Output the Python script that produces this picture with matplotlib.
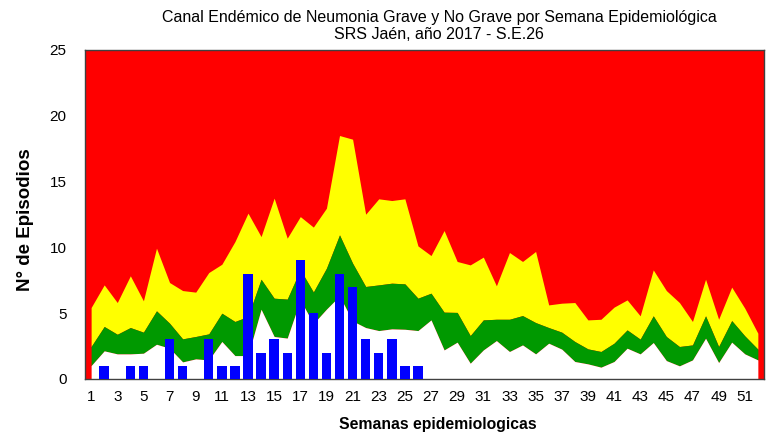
"""Canal endemico de neumonia - SRS Jaen 2017, S.E. 26
Stacked zones (success / security / alert / epidemic) plus weekly cases as bars.
"""

import numpy as np
import matplotlib
matplotlib.use("Agg")
import matplotlib.pyplot as plt

plt.rcParams["font.family"] = ["Liberation Sans", "DejaVu Sans"]

weeks = list(range(1, 53))

# limite inferior (zona de exito, blanco)
lower = [1.01, 2.13, 1.90, 1.90, 1.95, 2.63, 2.33, 1.29, 1.52, 1.44,
         2.84, 1.77, 1.77, 5.29, 3.22, 3.10, 6.00, 4.20, 5.30, 6.30,
         4.40, 3.90, 3.67, 3.80, 3.77, 3.67, 4.48, 2.20, 2.79, 1.19,
         2.20, 2.91, 2.08, 2.58, 1.90, 2.71, 2.26, 1.32, 1.14, 0.89,
         1.32, 2.33, 1.90, 2.76, 1.39, 0.99, 1.44, 3.09, 1.24, 2.79,
         1.90, 1.44]

# mediana (zona de seguridad, verde)
median = [2.46, 3.98, 3.39, 3.90, 3.55, 5.17, 4.23, 3.04, 3.22, 3.42,
          4.99, 4.36, 4.74, 7.57, 6.13, 6.06, 8.30, 6.60, 8.41, 10.94,
          8.79, 7.02, 7.14, 7.27, 7.22, 6.13, 6.51, 5.07, 5.05, 3.29,
          4.48, 4.53, 4.53, 4.81, 4.28, 3.90, 3.55, 2.84, 2.28, 2.08,
          2.71, 3.72, 3.02, 4.79, 3.22, 2.46, 2.58, 4.79, 2.46, 4.43,
          3.27, 2.26]

# limite superior (zona de alarma, amarillo)
upper = [5.42, 7.14, 5.80, 7.83, 5.93, 9.93, 7.32, 6.71, 6.59, 8.08,
         8.71, 10.43, 12.59, 10.81, 13.73, 10.69, 12.33, 11.53, 12.97, 18.49,
         18.21, 12.51, 13.68, 13.55, 13.68, 10.10, 9.37, 11.27, 8.92, 8.66,
         9.25, 7.07, 9.60, 8.92, 9.68, 5.62, 5.75, 5.80, 4.48, 4.53,
         5.45, 6.00, 4.79, 8.28, 6.71, 5.80, 4.36, 7.57, 4.53, 6.97,
         5.37, 3.47]

# casos 2017 hasta la S.E. 26
weeks_2017 = list(range(1, 27))
cases_2017 = [0, 1, 0, 1, 1, 0, 3, 1, 0, 3, 1, 1, 8, 2, 3, 2, 9, 5, 2, 8,
              7, 3, 2, 3, 1, 1]

Y_MAX = 25


def main():
    fig = plt.figure(figsize=(7.69, 4.37), dpi=100)
    ax = fig.add_axes([0.110, 0.133, 0.884, 0.753])

    # zona epidemica = fondo rojo
    ax.set_facecolor("#ff0000")
    ax.fill_between(weeks, median, upper, color="#ffff00", linewidth=0)
    ax.fill_between(weeks, lower, median, color="#009900", linewidth=0)
    ax.fill_between(weeks, 0, lower, color="white", linewidth=0)

    ax.bar(weeks_2017, cases_2017, width=0.72, color="#0000ff", zorder=3)

    ax.set_xlim(0.5, 52.5)
    ax.set_ylim(0, Y_MAX)
    ax.set_xticks(weeks[::2])
    ax.set_yticks(range(0, Y_MAX + 1, 5))
    ax.tick_params(axis="both", length=0, labelsize=11)
    ax.tick_params(axis="y", pad=13)
    ax.tick_params(axis="x", pad=8)

    for side in ax.spines.values():
        side.set_color("#404040")
        side.set_linewidth(1.0)

    ax.set_xlabel("Semanas epidemiologicas", fontsize=11.3, fontweight="bold",
                  labelpad=8)
    ax.xaxis.set_label_coords(0.519, -0.115)
    ax.set_ylabel("N° de Episodios", fontsize=13.5, fontweight="bold",
                  labelpad=12)
    ax.yaxis.set_label_coords(-0.074, 0.485)

    fig.text(0.571, 0.961, "Canal Endémico de Neumonia Grave y No Grave por Semana Epidemiológica",
             ha="center", va="center", fontsize=11.5)
    fig.text(0.571, 0.920, "SRS Jaén, año 2017 - S.E.26",
             ha="center", va="center", fontsize=11.5)

    fig.savefig("out.png", dpi=100)


if __name__ == "__main__":
    main()
